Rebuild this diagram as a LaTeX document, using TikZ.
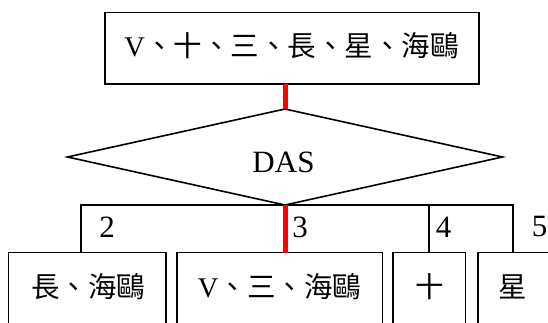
\documentclass[tikz,border=0pt]{standalone}
\usepackage{fontspec}
\setmainfont{Liberation Serif}
\newfontfamily\cjk{Noto Sans CJK TC}
\usetikzlibrary{shapes.geometric}
\begin{document}
\begin{tikzpicture}[x=1pt,y=-1pt, line width=1.6pt,
  box/.style={draw, rectangle, inner sep=0pt, outer sep=0pt},
  txt/.style={inner sep=0pt, font=\fontsize{28.5}{34}\selectfont},
  numtxt/.style={inner sep=0pt, font=\fontsize{31}{36}\selectfont},
  redlink/.style={draw=red, line width=5pt}]
\clip (0,0) rectangle (548,323);
% top box
\node[box, minimum width=374.3pt, minimum height=71.3pt] (top) at (291.85,48.35) {};
\node[txt] (toptxt) at (291.5,46) {V{\cjk 、十、三、長、星、海鷗}};
% diamond
\node[draw, diamond, minimum width=435pt, minimum height=96pt, inner sep=0pt, outer sep=0pt] (dia) at (285,157) {};
\node[numtxt] (dastxt) at (283.5,162.7) {DAS};
% bottom boxes
\node[box, minimum width=157.2pt, minimum height=82.5pt] (b1) at (87.1,293.75) {};
\node[box, minimum width=205.6pt, minimum height=82.5pt] (b2) at (279.5,293.75) {};
\node[box, minimum width=72.6pt, minimum height=82.5pt] (b3) at (429,293.75) {};
\node[box, minimum width=70.6pt, minimum height=82.5pt] (b4) at (513,293.75) {};
\node[txt] (t1) at (88.3,287) {\cjk 長、海鷗};
\node[txt] (t2) at (279.5,287) {V{\cjk 、三、海鷗}};
\node[txt] (t3) at (430,287) {\cjk 十};
\node[txt] (t4) at (513,287) {\cjk 星};
% branch labels
\node[numtxt] (l2) at (107,227) {2};
\node[numtxt] (l3) at (300,227) {3};
\node[numtxt] (l4) at (443.5,227) {4};
\node[numtxt] (l5) at (539.5,227) {5};
% connectors
\draw (dia.south) -| ([xshift=-6.4pt]b1.north);
\draw (dia.south) -| (b4.north);
\draw (b3.north) -- (b3.north |- dia.south);
\draw[redlink] (top.south -| dia.north) -- (dia.north);
\draw[redlink] (dia.south) -- (dia.south |- b2.north);
\end{tikzpicture}
\end{document}
